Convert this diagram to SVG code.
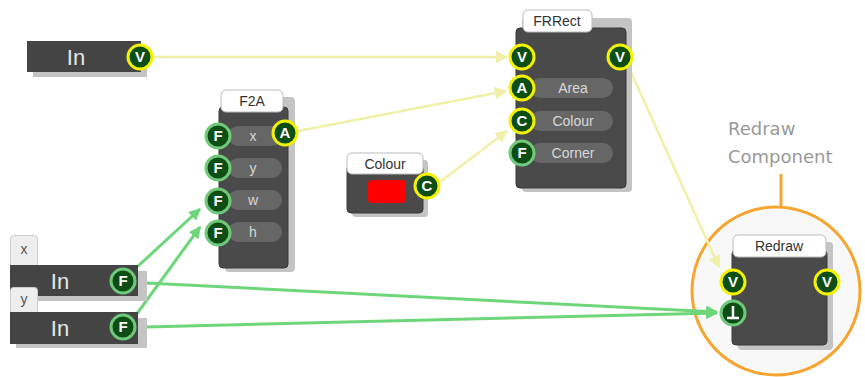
<svg xmlns="http://www.w3.org/2000/svg" width="865" height="377" viewBox="0 0 865 377">
<style>
.body{fill:#4a4a4a;stroke:#3a3a3a;stroke-width:1}
.shadow{fill:#c4c4c4}
.title{fill:#fff;stroke:#bbb;stroke-width:1}
.tt{font-family:"Liberation Sans",Arial,sans-serif;font-size:14px;fill:#333;text-anchor:middle}
.pill{fill:#666}
.pt{font-family:"Liberation Sans",Arial,sans-serif;font-size:14px;fill:#d8d8d8;text-anchor:middle}
.in{font-family:"Liberation Sans",Arial,sans-serif;font-size:22px;fill:#e6e6e6;text-anchor:middle}
.py{fill:#0d4d16;stroke:#f2f200;stroke-width:3}
.pg{fill:#0d4d16;stroke:#6fc97a;stroke-width:3}
.pl{font-family:"Liberation Sans",Arial,sans-serif;font-size:15px;font-weight:bold;fill:#fff;text-anchor:middle}
.cy{stroke:#f0f0a8;stroke-width:2.5;fill:none}
.cg{stroke:#6ed67a;stroke-width:3;fill:none}
.lab{fill:#eee;stroke:#ccc}
.lt{font-family:"Liberation Sans",Arial,sans-serif;font-size:14px;fill:#555;text-anchor:middle}
.note{font-family:"DejaVu Sans",sans-serif;font-size:18px;fill:#999}
</style>
<defs>
<marker id="ay" viewBox="0 0 10 10" refX="9" refY="5" markerWidth="5" markerHeight="5" orient="auto"><path d="M0,0 L10,5 L0,10 z" fill="#f0f0a8"/></marker>
<marker id="ag" viewBox="0 0 10 10" refX="9" refY="5" markerWidth="4" markerHeight="4" orient="auto"><path d="M0,0 L10,5 L0,10 z" fill="#6ed67a"/></marker>
</defs>

<g id="redraw-ring">
<circle cx="776" cy="291" r="84" fill="#f8f8f8" stroke="#f7a530" stroke-width="3"/>
<line x1="781" y1="174" x2="781" y2="207" stroke="#f7a530" stroke-width="3"/>
<text class="note" x="728" y="135">Redraw</text>
<text class="note" x="728" y="163">Component</text>
</g>

<g id="connectors">
<line class="cy" x1="153" y1="57" x2="507" y2="57" marker-end="url(#ay)"/>
<line class="cy" x1="298" y1="131" x2="506" y2="91" marker-end="url(#ay)"/>
<line class="cy" x1="440" y1="182" x2="507" y2="131" marker-end="url(#ay)"/>
<line class="cy" x1="630" y1="70" x2="719" y2="267" marker-end="url(#ay)"/>
<line class="cg" x1="136" y1="268" x2="200" y2="209" marker-end="url(#ag)"/>
<line class="cg" x1="136" y1="315" x2="200" y2="227" marker-end="url(#ag)"/>
<line class="cg" x1="146" y1="283" x2="717" y2="312" marker-end="url(#ag)"/>
<line class="cg" x1="146" y1="327" x2="717" y2="313" marker-end="url(#ag)"/>
</g>

<g id="in-top">
<rect class="shadow" x="33" y="47" width="114" height="30"/>
<rect x="27" y="41" width="114" height="31" fill="#444"/>
<text class="in" x="76" y="65">In</text>
<circle class="py" cx="140" cy="57" r="12"/>
<text class="pl" x="140" y="62">V</text>
</g>

<g id="f2a">
<rect class="shadow" x="225" y="97" width="70" height="175" rx="4"/>
<rect class="body" x="219" y="107" width="69" height="161" rx="4"/>
<rect class="title" x="221" y="90" width="62" height="22" rx="5"/>
<text class="tt" x="252" y="106">F2A</text>
<rect class="pill" x="228" y="126" width="54" height="20" rx="10"/>
<rect class="pill" x="228" y="158" width="54" height="20" rx="10"/>
<rect class="pill" x="228" y="190" width="54" height="20" rx="10"/>
<rect class="pill" x="228" y="222" width="54" height="20" rx="10"/>
<text class="pt" x="253" y="141">x</text>
<text class="pt" x="253" y="173">y</text>
<text class="pt" x="253" y="205">w</text>
<text class="pt" x="253" y="237">h</text>
<circle class="pg" cx="218" cy="136" r="12"/><text class="pl" x="218" y="141">F</text>
<circle class="pg" cx="218" cy="168" r="12"/><text class="pl" x="218" y="173">F</text>
<circle class="pg" cx="218" cy="201" r="12"/><text class="pl" x="218" y="206">F</text>
<circle class="pg" cx="218" cy="233" r="12"/><text class="pl" x="218" y="238">F</text>
<circle class="py" cx="285" cy="133" r="12"/><text class="pl" x="285" y="138">A</text>
</g>

<g id="colour">
<rect class="shadow" x="352" y="160" width="76" height="57" rx="4"/>
<rect class="body" x="347" y="165" width="76" height="48" rx="4"/>
<rect class="title" x="347" y="153" width="76" height="21" rx="5"/>
<text class="tt" x="385" y="169">Colour</text>
<rect x="368" y="180" width="38" height="23" rx="4" fill="#ff0000"/>
<circle class="py" cx="427" cy="186" r="12"/><text class="pl" x="427" y="191">C</text>
</g>

<g id="frrect">
<rect class="shadow" x="522" y="18" width="110" height="174" rx="4"/>
<rect class="body" x="516" y="28" width="110" height="160" rx="4"/>
<rect class="title" x="523" y="10" width="69" height="22" rx="5"/>
<text class="tt" x="557" y="26">FRRect</text>
<rect class="pill" x="530" y="78" width="83" height="20" rx="10"/>
<rect class="pill" x="530" y="111" width="83" height="20" rx="10"/>
<rect class="pill" x="530" y="143" width="83" height="20" rx="10"/>
<text class="pt" x="573" y="93">Area</text>
<text class="pt" x="573" y="126">Colour</text>
<text class="pt" x="573" y="158">Corner</text>
<circle class="py" cx="522" cy="57" r="12"/><text class="pl" x="522" y="62">V</text>
<circle class="py" cx="522" cy="88" r="12"/><text class="pl" x="522" y="93">A</text>
<circle class="py" cx="522" cy="121" r="12"/><text class="pl" x="522" y="126">C</text>
<circle class="pg" cx="522" cy="153" r="12"/><text class="pl" x="522" y="158">F</text>
<circle class="py" cx="620" cy="57" r="12"/><text class="pl" x="620" y="62">V</text>
</g>

<g id="redraw">
<rect class="shadow" x="738" y="242" width="95" height="108" rx="4"/>
<rect class="body" x="732" y="250" width="95" height="95" rx="4"/>
<rect class="title" x="733" y="235" width="93" height="22" rx="5"/>
<text class="tt" x="779" y="251">Redraw</text>
<circle class="py" cx="733" cy="282" r="12"/><text class="pl" x="733" y="287">V</text>
<circle class="pg" cx="733" cy="313" r="12"/>
<path d="M733,306 V317 M727,318 H739" stroke="#fff" stroke-width="2.5" fill="none"/>
<circle class="py" cx="827" cy="282" r="12"/><text class="pl" x="827" y="287">V</text>
</g>

<g id="in-x">
<rect class="lab" x="10.500" y="235.500" width="27" height="32" rx="3"/>
<text class="lt" x="24" y="254">x</text>
<rect class="shadow" x="16" y="271" width="131" height="30"/>
<rect x="10" y="265" width="128" height="31" fill="#444"/>
<text class="in" x="60" y="289">In</text>
<circle class="pg" cx="123" cy="281" r="12"/><text class="pl" x="123" y="286">F</text>
</g>

<g id="in-y">
<rect class="lab" x="10.500" y="287.500" width="27" height="26" rx="3"/>
<text class="lt" x="24" y="304">y</text>
<rect class="shadow" x="16" y="318" width="131" height="30"/>
<rect x="10" y="312" width="128" height="32" fill="#444"/>
<text class="in" x="60" y="336">In</text>
<circle class="pg" cx="123" cy="327" r="12"/><text class="pl" x="123" y="332">F</text>
</g>
</svg>
